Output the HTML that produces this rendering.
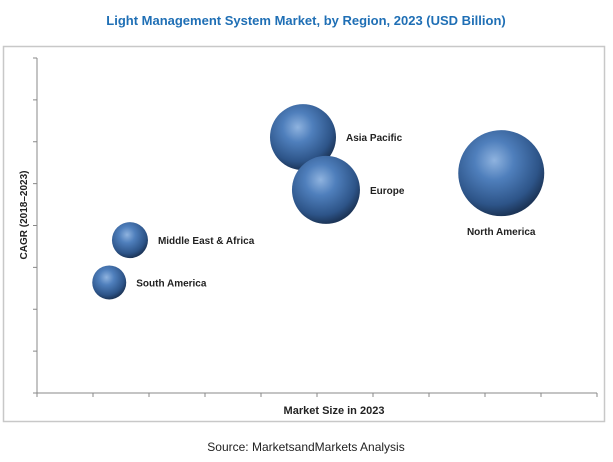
<!DOCTYPE html>
<html><head><meta charset="utf-8"><style>
html,body{margin:0;padding:0;background:#fff;}
svg{display:block;font-family:"Liberation Sans",sans-serif;}
</style></head><body>
<svg id="chart" width="613" height="462">
<defs>
<radialGradient id="ball" cx="0.42" cy="0.35" r="0.65">
<stop offset="0" stop-color="#8fb3df"/>
<stop offset="0.35" stop-color="#4f7fbc"/>
<stop offset="0.8" stop-color="#2d5488"/>
<stop offset="1" stop-color="#1c3558"/>
</radialGradient>
</defs>
<text x="306" y="25" text-anchor="middle" font-size="13" font-weight="bold" fill="#1f6fb5">Light Management System Market, by Region, 2023 (USD Billion)</text>
<rect x="3.5" y="46.5" width="601" height="375" fill="none" stroke="#c8c8c8" stroke-width="1.5"/>
<g id="axes"></g>
<g id="bubbles"></g>
<text x="334" y="414" text-anchor="middle" font-size="11" font-weight="bold" fill="#222">Market Size in 2023</text>
<text transform="translate(27,215) rotate(-90)" text-anchor="middle" font-size="10" font-weight="bold" fill="#222">CAGR (2018–2023)</text>
<text x="306" y="451" text-anchor="middle" font-size="12" fill="#222">Source: MarketsandMarkets Analysis</text>
</svg>
<script>
const regions = ["Asia Pacific","Europe","North America","Middle East & Africa","South America"];
const marketSize = [4.75,5.16,8.29,1.66,1.29];
const cagr = [6.11,4.85,5.25,3.65,2.64];
const bubbleSize = [33,34,43,18,17];
const xTicks = [0,1,2,3,4,5,6,7,8,9,10];
const yTicks = [0,1,2,3,4,5,6,7,8];

const NS="http://www.w3.org/2000/svg";
const X0=37,X1=597,Y0=393,Y1=58;
function xs(v){return X0+(v-0)/(10-0)*(X1-X0);}
function ys(v){return Y0-(v-0)/(8-0)*(Y0-Y1);}
function mk(t,a){const e=document.createElementNS(NS,t);for(const k in a)e.setAttribute(k,a[k]);return e;}
const axes=document.getElementById('axes');
const ya=mk('line',{x1:X0,y1:Y0,x2:X0,y2:Y1,stroke:'#888','stroke-width':1});


axes.appendChild(ya);
const xa=mk('line',{x1:X0,y1:Y0,x2:X1,y2:Y0,stroke:'#888','stroke-width':1});


axes.appendChild(xa);
yTicks.forEach(t=>{const l=mk('line',{x1:X0-4,y1:ys(t),x2:X0,y2:ys(t),stroke:'#888'});


axes.appendChild(l);});
xTicks.forEach(t=>{const l=mk('line',{x1:xs(t),y1:Y0,x2:xs(t),y2:Y0+4,stroke:'#888'});


axes.appendChild(l);});
const g=document.getElementById('bubbles');
const labelPos=[[1,0],[1,0],[0,1],[1,0],[1,0]];
regions.forEach((r,i)=>{
  const cx=xs(marketSize[i]),cy=ys(cagr[i]),rad=bubbleSize[i];
  const c=mk('circle',{cx:cx,cy:cy,r:rad,fill:'url(#ball)'});
  
  
  g.appendChild(c);
  let tx,ty,anchor;
  if(labelPos[i][1]){tx=cx;ty=cy+rad+19;anchor='middle';}
  else{tx=cx+rad+10;ty=cy+4;anchor='start';}
  const t=mk('text',{x:tx,y:ty,'text-anchor':anchor,'font-size':10,'font-weight':'bold',fill:'#222'});
  t.textContent=r;
  
  
  g.appendChild(t);
});
</script>
</body></html>
